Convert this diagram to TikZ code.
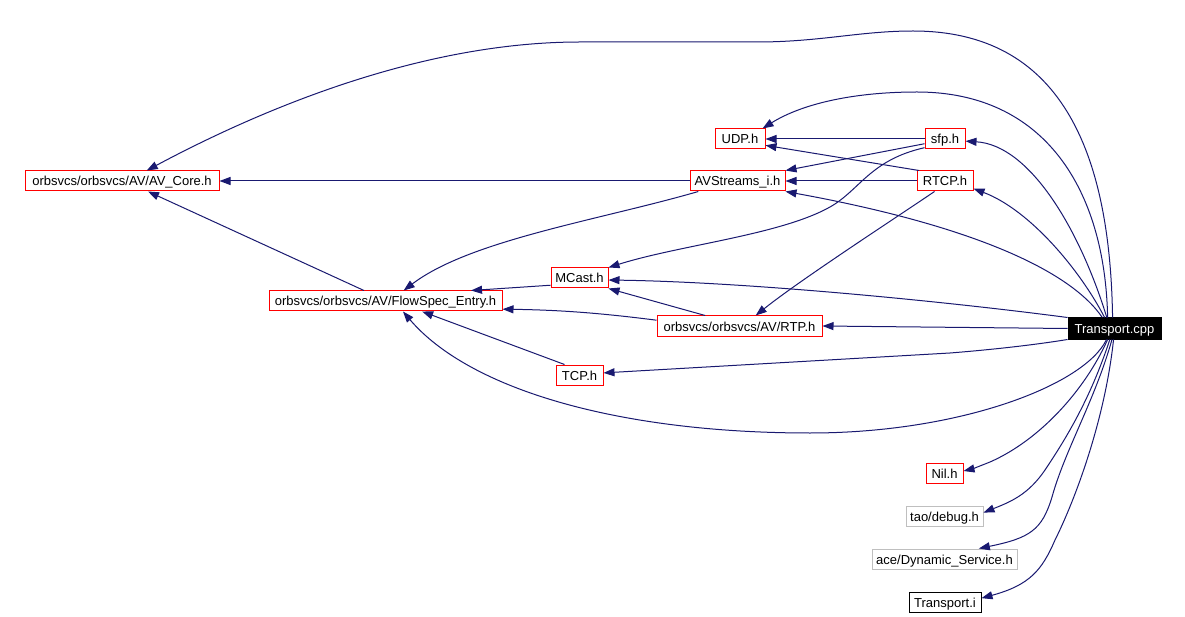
\documentclass[tikz,border=0pt]{standalone}
\usepackage{fontspec}
\setmainfont{Liberation Sans}
\usetikzlibrary{arrows.meta}
\definecolor{edgec}{HTML}{191970}
\definecolor{boxred}{HTML}{FF0000}
\definecolor{boxgrey}{HTML}{BFBFBF}
\tikzset{
  fbox/.style={draw=boxred, line width=1pt, fill=white, inner sep=0pt, minimum height=20pt, text height=10pt, text depth=0pt, font=\fontsize{13}{13}\selectfont},
  gbox/.style={fbox, draw=boxgrey},
  kbox/.style={fbox, draw=black},
  rootbox/.style={fbox, draw=black, fill=black, text=white, minimum height=21pt},
  dep/.style={draw=edgec, line width=1pt, -{Triangle[length=11pt,width=8pt]}, fill=none},
}
\begin{document}
\begin{tikzpicture}[x=1pt,y=-1pt]
\useasboundingbox (0,0) rectangle (1185,617);
\fill[white] (0,0) rectangle (1185,617);
% nodes
\node[fbox, minimum width=194pt] (avcore) at (122,181) {orbsvcs/orbsvcs/AV/AV\_Core.h};
\node[fbox, minimum width=233pt] (flow) at (385.5,301) {orbsvcs/orbsvcs/AV/FlowSpec\_Entry.h};
\node[fbox, minimum width=50pt] (udp) at (740,139) {UDP.h};
\node[fbox, minimum width=40pt] (sfp) at (945,139) {sfp.h};
\node[fbox, minimum width=95pt] (avs) at (737.5,181) {AVStreams\_i.h};
\node[fbox, minimum width=56pt] (rtcp) at (945,181) {RTCP.h};
\node[fbox, minimum width=57pt] (mcast) at (579.5,278) {MCast.h};
\node[fbox, minimum width=165pt] (rtp) at (739.5,326) {orbsvcs/orbsvcs/AV/RTP.h};
\node[fbox, minimum width=47pt] (tcp) at (579.5,375) {TCP.h};
\node[rootbox, minimum width=93pt] (tcpp) at (1114.5,328.5) {Transport.cpp};
\node[fbox, minimum width=37pt] (nil) at (944.5,473) {Nil.h};
\node[gbox, minimum width=77pt] (dbg) at (944.5,516) {tao/debug.h};
\node[gbox, minimum width=145pt] (dyn) at (944.5,559) {ace/Dynamic\_Service.h};
\node[kbox, minimum width=72pt] (ti) at (945,602) {Transport.i};
% edges from Transport.cpp
\draw[dep] (tcpp.100) .. controls (1110,150) and (1060,31) .. (913,31) .. controls (860,31) and (820,42) .. (757,42) -- (580,42) .. controls (420,42) and (260,110) .. (avcore.23.5);
\draw[dep] (tcpp.122) .. controls (1105,190) and (1045,92) .. (917,92) .. controls (850,92) and (800,105) .. (udp.25);
\draw[dep] (tcpp.125) .. controls (1080,230) and (1030,145) .. (sfp.354);
\draw[dep] (tcpp.132) .. controls (1080,270) and (1030,210) .. (rtcp.345);
\draw[dep] (tcpp.138) .. controls (1070,270) and (970,225) .. (avs.south east);
\draw[dep] (tcpp.north west) .. controls (950,302) and (750,282) .. (mcast.356);
\draw[dep] (tcpp.west) -- (rtp.east);
\draw[dep] (tcpp.south west) .. controls (1040,344) and (1000,349) .. (950,353) -- (tcp.5);
\draw[dep] (tcpp.234.5) .. controls (1085,385) and (960,433) .. (810,433) .. controls (620,433) and (470,390) .. (flow.329);
\draw[dep] (tcpp.238) .. controls (1085,390) and (1040,440) .. (990,462) .. controls (980,466) and (972,469) .. (nil.6);
\draw[dep] (tcpp.247) .. controls (1090,400) and (1065,440) .. (1045,470) .. controls (1028,495) and (1010,502) .. (dbg.5);
\draw[dep] (tcpp.257) .. controls (1095,400) and (1065,450) .. (1052,497) .. controls (1042,530) and (1030,538) .. (dyn.17);
\draw[dep] (tcpp.265) .. controls (1105,420) and (1075,500) .. (1055,540) .. controls (1042,570) and (1030,585) .. (ti.6);
% other edges
\draw[dep] (avs.west) -- (avcore.east);
\draw[dep] (flow.154) -- (avcore.338);
\draw[dep] (avs.195) .. controls (600,220) and (470,240) .. (flow.30);
\draw[dep] (mcast.194) -- (flow.7);
\draw[dep] (rtp.176) .. controls (600,313) and (560,310) .. (flow.356);
\draw[dep] (tcp.145) -- (flow.344);
\draw[dep] (rtp.163) -- (mcast.south east);
\draw[dep] (sfp.west) -- (udp.east);
\draw[dep] (rtcp.158) -- (udp.346);
\draw[dep] (sfp.193) -- (avs.north east);
\draw[dep] (sfp.203) .. controls (870,160) and (860,190) .. (830,207) .. controls (780,235) and (680,245) .. (mcast.north east);
\draw[dep] (rtcp.west) -- (avs.east);
\draw[dep] (rtcp.225) .. controls (900,215) and (800,280) .. (rtp.33);
\end{tikzpicture}
\end{document}
